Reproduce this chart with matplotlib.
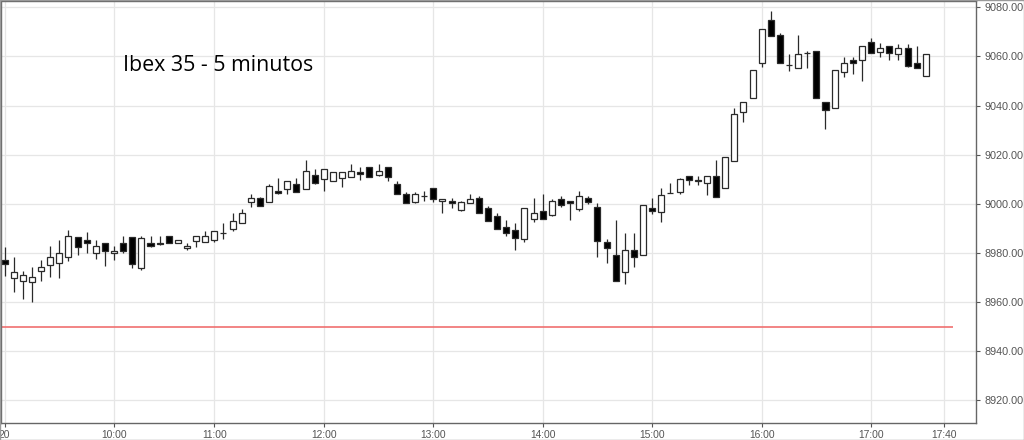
import numpy as np
import matplotlib
matplotlib.use("Agg")
import matplotlib.pyplot as plt
from matplotlib.patches import Rectangle

# 5-minute candles, Ibex 35, one entry per bar (open, high, low, close)
opens = [8977.0, 8969.7, 8968.6, 8967.9, 8972.7, 8975.0, 8975.8, 8978.1, 8986.3, 8985.2,
         8979.7, 8984.0, 8979.9, 8984.0, 8986.3, 8973.8, 8984.0, 8984.1, 8986.9, 8983.8,
         8981.9, 8984.9, 8984.2, 8985.2, 8987.9, 8989.7, 8992.0, 9000.5, 9002.2, 9000.5,
         9005.0, 9006.0, 9008.0, 9006.0, 9011.7, 9010.1, 9009.4, 9010.5, 9011.0, 9012.8,
         9015.1, 9011.7, 9015.1, 9008.0, 9004.0, 9000.5, 9003.0, 9006.2, 9000.9, 9000.9,
         8997.4, 9000.1, 9002.2, 8998.1, 8995.1, 8990.6, 8989.3, 8985.8, 8993.8, 8996.9,
         8995.4, 9001.9, 9000.9, 8997.8, 9002.2, 8998.5, 8984.2, 8979.2, 8972.0, 8981.2,
         8979.1, 8998.3, 8996.7, 9004.3, 9004.8, 9011.2, 9009.6, 9008.3, 9011.2, 9006.2,
         9017.4, 9037.4, 9042.9, 9057.3, 9074.7, 9068.6, 9056.6, 9055.2, 9061.5, 9062.2,
         9041.3, 9038.9, 9053.5, 9058.4, 9058.4, 9065.8, 9062.0, 9064.2, 9060.8, 9063.4,
         9057.3, 9052.2]
highs = [8982.2, 8978.1, 8972.4, 8974.0, 8977.0, 8982.9, 8985.2, 8989.2, 8986.5, 8988.3,
         8985.2, 8984.0, 8982.9, 8986.9, 8986.3, 8986.9, 8986.9, 8986.9, 8986.9, 8985.2,
         8984.0, 8986.9, 8989.0, 8989.0, 8992.0, 8996.2, 8997.8, 9004.0, 9002.6, 9008.0,
         9010.3, 9009.1, 9010.3, 9018.0, 9014.2, 9014.2, 9013.1, 9013.1, 9016.2, 9015.1,
         9015.1, 9016.2, 9015.1, 9009.4, 9004.6, 9004.6, 9005.3, 9006.2, 9001.9, 9002.2,
         9001.2, 9004.0, 9003.3, 8999.2, 8996.0, 8993.3, 8992.1, 8998.1, 9002.2, 9004.0,
         9001.9, 9003.3, 9000.9, 9005.3, 9003.3, 9000.1, 8985.6, 8993.3, 8988.0, 8988.0,
         8999.5, 9002.4, 9006.5, 9008.3, 9010.3, 9011.2, 9011.2, 9011.2, 9017.8, 9018.9,
         9038.8, 9041.5, 9054.3, 9071.3, 9078.4, 9069.5, 9060.8, 9068.6, 9062.4, 9062.2,
         9041.3, 9054.3, 9059.7, 9059.7, 9064.1, 9067.6, 9065.4, 9064.2, 9065.2, 9065.2,
         9064.2, 9060.8]
lows = [8970.6, 8964.1, 8961.1, 8960.1, 8968.6, 8970.3, 8969.9, 8976.7, 8979.2, 8980.1,
        8977.4, 8974.7, 8977.0, 8979.7, 8973.7, 8972.9, 8982.2, 8983.2, 8983.8, 8983.8,
        8981.1, 8982.2, 8984.2, 8984.2, 8985.6, 8988.7, 8992.0, 8998.8, 8999.1, 9000.5,
        9004.0, 9004.0, 9004.9, 9006.0, 9008.2, 9005.3, 9009.4, 9006.7, 9011.0, 9009.7,
        9010.7, 9011.2, 9009.4, 9004.0, 9000.1, 9000.1, 9000.9, 9000.5, 8996.4, 8998.2,
        8997.0, 9000.1, 8996.1, 8993.1, 8989.7, 8986.9, 8981.1, 8984.5, 8992.4, 8993.8,
        8995.0, 8998.5, 8993.3, 8997.1, 8999.9, 8978.1, 8976.0, 8968.6, 8967.2, 8974.0,
        8979.1, 8995.6, 8992.6, 9004.2, 9003.8, 9007.6, 9007.6, 9003.5, 9002.6, 9006.2,
        9017.4, 9033.4, 9042.9, 9055.6, 9068.2, 9057.3, 9053.9, 9055.2, 9055.2, 9043.0,
        9030.5, 9038.9, 9051.6, 9052.7, 9049.8, 9061.3, 9059.7, 9058.7, 9058.7, 9055.6,
        9055.4, 9052.2]
closes = [8975.6, 8972.2, 8970.9, 8970.2, 8974.0, 8978.1, 8980.0, 8986.9, 8982.2, 8983.8,
          8982.9, 8980.8, 8980.8, 8980.8, 8975.6, 8986.0, 8982.6, 8983.4, 8983.8, 8985.2,
          8982.9, 8986.7, 8986.9, 8989.0, 8987.9, 8993.1, 8996.4, 9002.2, 8999.1, 9007.1,
          9004.4, 9009.1, 9004.9, 9013.5, 9008.4, 9014.2, 9013.1, 9013.1, 9013.5, 9012.1,
          9010.7, 9013.2, 9010.7, 9004.0, 9000.1, 9004.0, 9003.0, 9001.9, 9001.9, 9000.1,
          9000.5, 9001.9, 8996.1, 8993.1, 8989.7, 8987.9, 8986.2, 8998.1, 8996.2, 8993.8,
          9000.9, 8999.5, 9000.3, 9003.3, 9000.8, 8984.9, 8981.9, 8968.6, 8981.2, 8978.4,
          8999.5, 8997.1, 9003.5, 9004.3, 9009.9, 9009.6, 9009.2, 9011.2, 9002.6, 9018.9,
          9036.4, 9041.5, 9054.3, 9071.3, 9068.2, 9057.3, 9056.6, 9061.1, 9061.5, 9043.0,
          9038.2, 9054.3, 9057.3, 9057.3, 9064.1, 9061.3, 9063.4, 9061.3, 9063.4, 9056.3,
          9055.4, 9060.8]

# bar index of each time label (one bar is missing between 10:00 and 11:00)
tick_bars = [0, 12, 23, 35, 47, 59, 71, 83, 95, 103]
tick_labels = ["20", "10:00", "11:00", "12:00", "13:00", "14:00", "15:00", "16:00", "17:00", "17:40"]
y_ticks = [8920, 8940, 8960, 8980, 9000, 9020, 9040, 9060, 9080]
ref_level = 8949.7

o = np.array(opens)
h = np.array(highs)
l = np.array(lows)
c = np.array(closes)
idx = np.arange(len(o))
up = c >= o

fig = plt.figure(figsize=(10.24, 4.4), dpi=100)
ax = fig.add_axes([1 / 1024, 16.7 / 440, 975 / 1024, 422.3 / 440])

edge = "#2a2a2a"
ax.vlines(idx, l, h, color=edge, lw=0.9, zorder=2)
bottoms = np.minimum(o, c)
heights = np.abs(c - o)
ax.bar(idx, heights, bottom=bottoms, width=0.66,
       color=np.where(up, "white", "black"), edgecolor=edge, linewidth=0.9, zorder=3)

ax.hlines(ref_level, -1, 104, color="#f07070", lw=1.2, zorder=1)

ax.set_xlim(-0.39, 106.5)
ax.set_ylim(8910.5, 9082.6)

ax.set_xticks(tick_bars)
ax.set_xticklabels(tick_labels)
ax.set_yticks(y_ticks)
ax.set_yticklabels([f"{v:.2f}" for v in y_ticks])
ax.yaxis.tick_right()
ax.tick_params(axis="both", colors="#555555", length=3, width=0.8,
               labelfontfamily="Liberation Sans")
ax.tick_params(axis="y", pad=3, labelsize=7.8)
ax.tick_params(axis="x", pad=2, labelsize=7.4)
ax.grid(True, color="#e6e6e6", lw=0.9, zorder=0)
ax.set_axisbelow(True)
for s in ax.spines.values():
    s.set_color("#666666")
    s.set_linewidth(1.0)

fig.text(123 / 1024, 1 - 71 / 440, "Ibex 35 - 5 minutos", fontsize=15.4,
         family="Open Sans", color="black", va="baseline", ha="left")

fig.patches.append(Rectangle((0, 0), 1, 1, transform=fig.transFigure, fill=False,
                             edgecolor="#9a9a9a", lw=1.0))

fig.savefig("out.png", dpi=100)
